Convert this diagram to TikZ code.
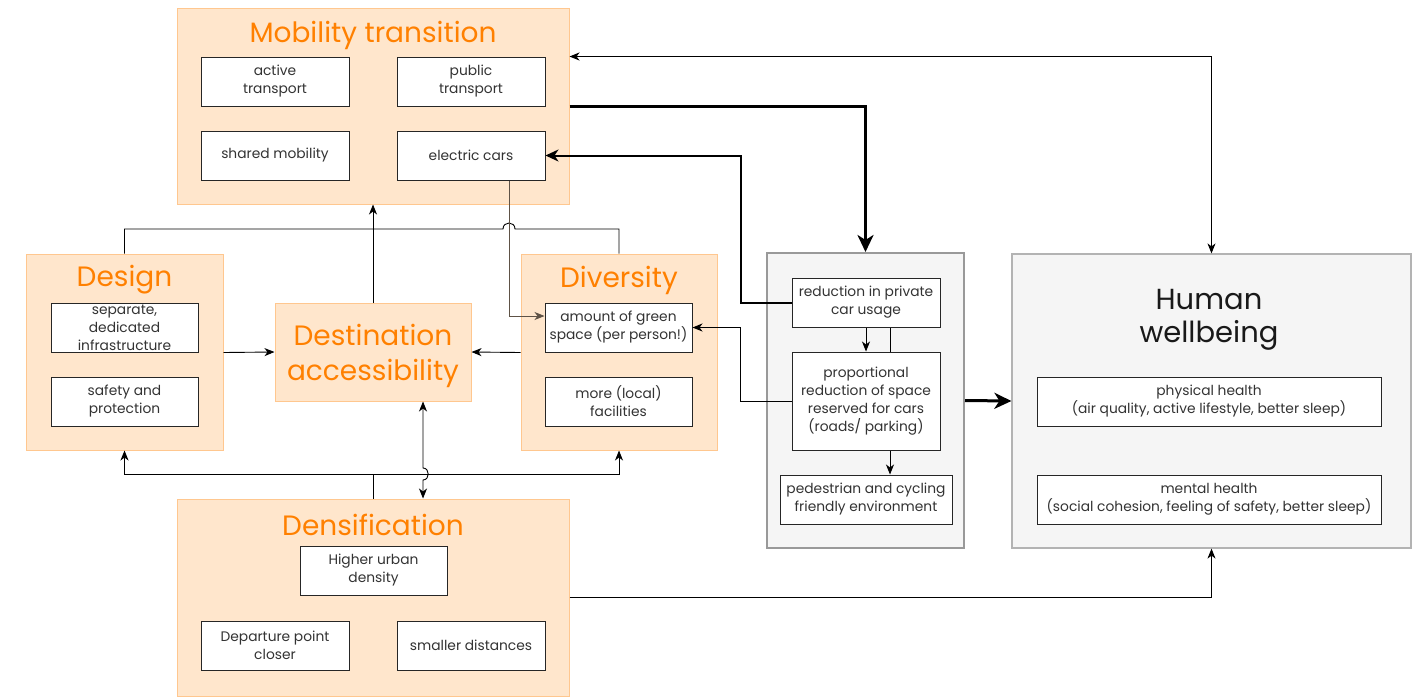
\documentclass[tikz,border=0pt]{standalone}
\usepackage{fontspec}
\setmainfont{Poppins}
\usetikzlibrary{arrows.meta,calc}

\definecolor{orfill}{HTML}{FFE6CC}
\definecolor{orline}{HTML}{FFC78F}
\definecolor{ortext}{HTML}{FF8000}
\definecolor{grfill}{HTML}{F5F5F5}
\definecolor{grline}{HTML}{999999}
\definecolor{hwline}{HTML}{B3B3B3}
\definecolor{txt}{HTML}{333333}
\definecolor{brown}{HTML}{5E5246}

\tikzset{
  group/.style={draw=orline, fill=orfill, line width=1pt, inner sep=0pt},
  grbox/.style={draw=grline, fill=grfill, line width=2pt, inner sep=0pt},
  hwbox/.style={draw=hwline, fill=grfill, line width=1.2pt, inner sep=0pt},
  item/.style={draw=black!85, fill=white, line width=1pt, align=center, text=txt,
    font=\fontsize{13.8}{18}\selectfont, inner sep=0pt,
    minimum width=148pt, minimum height=49pt},
  heading/.style={text=ortext, font=\fontsize{28}{35}\selectfont, align=center, inner sep=0pt},
  tip/.style={Stealth[length=10pt,width=8pt,inset=3pt]},
  conn/.style={line width=0.9pt, -{Stealth[length=10pt,width=8pt,inset=3pt]}},
  bothconn/.style={line width=0.9pt, {Stealth[length=10pt,width=8pt,inset=3pt]}-{Stealth[length=10pt,width=8pt,inset=3pt]}},
  plain/.style={line width=0.9pt},
  heavy/.style={line width=3pt, -{Stealth[length=17pt,width=16pt,inset=5pt]}},
  medium/.style={line width=2pt, -{Stealth[length=13pt,width=12pt,inset=4pt]}},
}

\begin{document}
\begin{tikzpicture}[x=1pt,y=-1pt]
\useasboundingbox (0,0) rectangle (1414,697);

% ---------- Mobility transition ----------
\node[group, minimum width=392pt, minimum height=196pt] (mob) at (373,106) {};
\node[heading] (mobT) at (373,35) {Mobility transition};
\node[item] (active) at (275,81.5) {active\\transport};
\node[item] (public) at (471,81.5) {public\\transport};
\node[item] (shared) at (275,155.5) {shared mobility};
\node[item] (electric) at (471,155.5) {electric cars};

% ---------- Design ----------
\node[group, minimum width=197pt, minimum height=196pt] (design) at (124.5,352) {};
\node[heading] (designT) at (124.5,280) {Design};
\node[item, minimum width=147pt] (separate) at (124.5,327.5) {separate,\\dedicated\\infrastructure};
\node[item, minimum width=147pt] (safety) at (124.5,401.5) {safety and\\protection};

% ---------- Destination accessibility ----------
\node[group, minimum width=196pt, minimum height=98pt, heading] (dest) at (373,352) {};
\node[heading] (destT) at (373,356) {Destination\\accessibility};

% ---------- Diversity ----------
\node[group, minimum width=196pt, minimum height=196pt] (diversity) at (619,352) {};
\node[heading] (diversityT) at (619,280) {Diversity};
\node[item, minimum width=147pt] (green) at (618.5,327.5) {amount of green\\space (per person!)};
\node[item, minimum width=147pt] (facilities) at (618.5,401.5) {more (local)\\facilities};

% ---------- Densification ----------
\node[group, minimum width=392pt, minimum height=197pt] (dens) at (373,597.5) {};
\node[heading] (densT) at (373,525) {Densification};
\node[item, minimum width=147pt] (higher) at (373.5,570.5) {Higher urban\\density};
\node[item] (departure) at (275,645.5) {Departure point\\closer};
\node[item] (smaller) at (471,645.5) {smaller distances};

% ---------- Car reduction chain ----------
\node[grbox, minimum width=197pt, minimum height=295pt] (mid) at (865.5,400.5) {};
\node[item] (reduction) at (866,302.5) {reduction in private\\car usage};
\node[item, minimum height=98pt] (proportional) at (866,401) {proportional\\reduction of space\\reserved for cars\\(roads/ parking)};
\node[item, minimum width=172pt] (pedestrian) at (866,499.5) {pedestrian and cycling\\friendly environment};

% ---------- Human wellbeing ----------
\node[hwbox, minimum width=399pt, minimum height=294pt] (human) at (1211.5,401) {};
\node[text=black!90, font=\fontsize{29}{33}\selectfont, align=center, inner sep=0pt] (humanT) at (1209,320) {Human\\wellbeing};
\node[item, minimum width=344pt] (physical) at (1209,401.5) {physical health\\(air quality, active lifestyle, better sleep)};
\node[item, minimum width=344pt] (mental) at (1209,499.5) {mental health\\(social cohesion, feeling of safety, better sleep)};

% ---------- Connectors ----------
% wellbeing <-> mobility transition
\draw[bothconn] (mob.east |- active.north) -| (human.north);
% mobility transition => car reduction
\draw[heavy] (mob.east |- public.south) -| (mid.north);
% reduction in private car usage => electric cars
\draw[medium] (reduction.west) -- ++(-51,0) |- (electric.east);
% proportional reduction -> green space
\draw[conn] (proportional.west) -- ++(-51,0) |- (green.east);
% inside the chain
\draw[conn] (reduction.south) -- (proportional.north);
\draw[plain] ([xshift=24pt]reduction.south) -- ([xshift=24pt]proportional.north);
\draw[conn] ([xshift=24pt]proportional.south) -- ([xshift=24pt]pedestrian.north);
% chain => wellbeing
\draw[heavy] (mid.east) -- (human.west);
% densification -> wellbeing
\draw[conn] (dens.east) -| (human.south);

% feeders into mobility transition
\coordinate (jtop) at (dest.north |- 0,229);
\draw[conn] (dest.north) -- (mob.south);
\draw[plain] (design.north) |- (jtop) -- (503,229)
  .. controls (503,221) and (515,221) .. (515,229) -| (diversity.north);
% electric cars -> green space
\draw[line width=0.9pt, draw=brown, -{Stealth[length=10pt,width=8pt,inset=3pt]}]
  ([xshift=38pt]electric.south) |- ([yshift=11.5pt]green.west);

% design / diversity <-> destination
\draw[conn] (separate.south -| design.east) -- (dest.west);
\draw[conn] (green.south -| diversity.west) -- (dest.east);

% densification feeders
\coordinate (jbot) at (dens.north |- 0,474);
\draw[plain] (dens.north) -- (jbot);
\draw[conn] (jbot) -| (design.south);
\draw[conn] (jbot) -| (diversity.south);
\coordinate (hop) at ([xshift=50pt]dest.south |- jbot);
\draw[bothconn] ([xshift=50pt]dest.south) -- ($(hop)+(0,-6)$)
  .. controls ($(hop)+(7,-6)$) and ($(hop)+(7,6)$) .. ($(hop)+(0,6)$)
  -- ([xshift=50pt]dens.north);
\end{tikzpicture}
\end{document}
